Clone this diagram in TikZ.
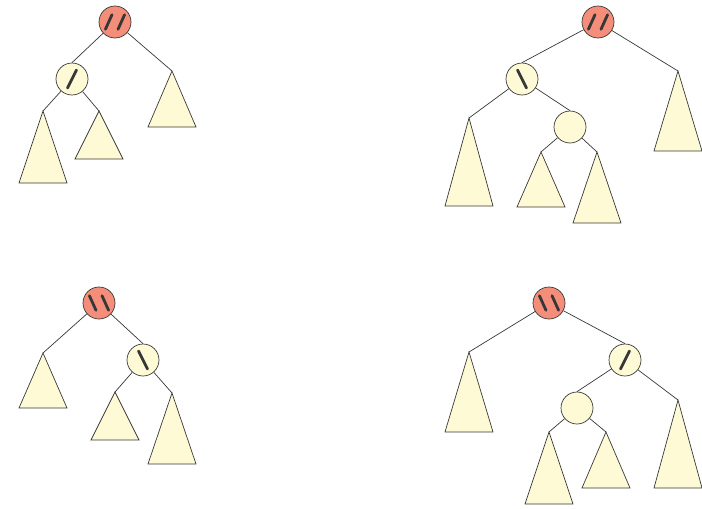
\documentclass[tikz,border=0pt]{standalone}
\definecolor{avlRed}{RGB}{244,142,122}
\definecolor{avlCream}{RGB}{255,250,214}
\definecolor{avlLine}{RGB}{55,55,55}
\usepackage{tikz}
\usetikzlibrary{calc}

\begin{document}
\begin{tikzpicture}[x=1pt, y=-1pt,
  bal/.style={draw=avlLine, line width=0.7pt, circle, minimum size=32pt, inner sep=0pt, fill=avlCream},
  heavy/.style={bal, fill=avlRed},
  tick/.style={line width=2.8pt, line cap=round, draw=avlLine},
  tree/.style={draw=avlLine, line width=0.7pt, fill=avlCream},
  link/.style={draw=avlLine, line width=0.7pt}]
  \useasboundingbox (0,0) rectangle (702,509);

  % Left-left
  \node[heavy] (r1) at (115,22) {};
  \node[bal] (a1) at (72,79) {};
  \draw[tick] ($(r1)+(-9.6,7.3)$) -- ($(r1)+(-3,-7.3)$);
  \draw[tick] ($(r1)+(3,7.3)$) -- ($(r1)+(9.6,-7.3)$);
  \draw[tick] ($(a1)+(-4.5,9)$) -- ($(a1)+(4.5,-9)$);
  \coordinate (t11) at (43,111);
  \coordinate (t12) at (99,111);
  \coordinate (t13) at (172,71);
  \filldraw[tree] (t11) -- ++(-24,72) -- ++(48,0) -- cycle;
  \filldraw[tree] (t12) -- ++(-24,48) -- ++(48,0) -- cycle;
  \filldraw[tree] (t13) -- ++(-24,56) -- ++(48,0) -- cycle;
  \draw[link] (r1) -- (a1.north);
  \draw[link] (r1) -- (t13);
  \draw[link] (a1) -- (t11);
  \draw[link] (a1) -- (t12);

  % Left-right
  \node[heavy] (r2) at (598,22) {};
  \node[bal] (a2) at (522,79) {};
  \node[bal] (b2) at (570,127) {};
  \draw[tick] ($(r2)+(-9.6,7.3)$) -- ($(r2)+(-3,-7.3)$);
  \draw[tick] ($(r2)+(3,7.3)$) -- ($(r2)+(9.6,-7.3)$);
  \draw[tick] ($(a2)+(-4.5,-9)$) -- ($(a2)+(4.5,9)$);
  \coordinate (t21) at (469,118);
  \coordinate (t22) at (541,152);
  \coordinate (t23) at (678,71);
  \coordinate (t24) at (597,152);
  \filldraw[tree] (t21) -- ++(-24,88) -- ++(48,0) -- cycle;
  \filldraw[tree] (t22) -- ++(-24,55) -- ++(48,0) -- cycle;
  \filldraw[tree] (t23) -- ++(-24,80) -- ++(48,0) -- cycle;
  \filldraw[tree] (t24) -- ++(-24,71) -- ++(48,0) -- cycle;
  \draw[link] (r2) -- (a2.north);
  \draw[link] (r2) -- (t23);
  \draw[link] (a2) -- (t21);
  \draw[link] (a2) -- (b2.north);
  \draw[link] (b2) -- (t22);
  \draw[link] (b2) -- (t24);

  % Right-right
  \node[heavy] (r3) at (99,303) {};
  \node[bal] (a3) at (143,360) {};
  \draw[tick] ($(r3)+(-9.6,-7.3)$) -- ($(r3)+(-3,7.3)$);
  \draw[tick] ($(r3)+(3,-7.3)$) -- ($(r3)+(9.6,7.3)$);
  \draw[tick] ($(a3)+(-4.5,-9)$) -- ($(a3)+(4.5,9)$);
  \coordinate (t31) at (43,353);
  \coordinate (t32) at (115,392);
  \coordinate (t33) at (172,393);
  \filldraw[tree] (t31) -- ++(-24,55) -- ++(48,0) -- cycle;
  \filldraw[tree] (t32) -- ++(-24,48) -- ++(48,0) -- cycle;
  \filldraw[tree] (t33) -- ++(-24,71) -- ++(48,0) -- cycle;
  \draw[link] (r3) -- (t31);
  \draw[link] (r3) -- (a3.north);
  \draw[link] (a3) -- (t32);
  \draw[link] (a3) -- (t33);

  % Right-left
  \node[heavy] (r4) at (549,303) {};
  \node[bal] (a4) at (625,360) {};
  \node[bal] (b4) at (577,408) {};
  \draw[tick] ($(r4)+(-9.6,-7.3)$) -- ($(r4)+(-3,7.3)$);
  \draw[tick] ($(r4)+(3,-7.3)$) -- ($(r4)+(9.6,7.3)$);
  \draw[tick] ($(a4)+(-4.5,9)$) -- ($(a4)+(4.5,-9)$);
  \coordinate (t41) at (469,352);
  \coordinate (t42) at (549,432);
  \coordinate (t43) at (606,432);
  \coordinate (t44) at (678,400);
  \filldraw[tree] (t41) -- ++(-24,80) -- ++(48,0) -- cycle;
  \filldraw[tree] (t42) -- ++(-24,72) -- ++(48,0) -- cycle;
  \filldraw[tree] (t43) -- ++(-24,56) -- ++(48,0) -- cycle;
  \filldraw[tree] (t44) -- ++(-24,88) -- ++(48,0) -- cycle;
  \draw[link] (r4) -- (t41);
  \draw[link] (r4) -- (a4.north);
  \draw[link] (a4) -- (b4.north);
  \draw[link] (a4) -- (t44);
  \draw[link] (b4) -- (t42);
  \draw[link] (b4) -- (t43);
\end{tikzpicture}
\end{document}
